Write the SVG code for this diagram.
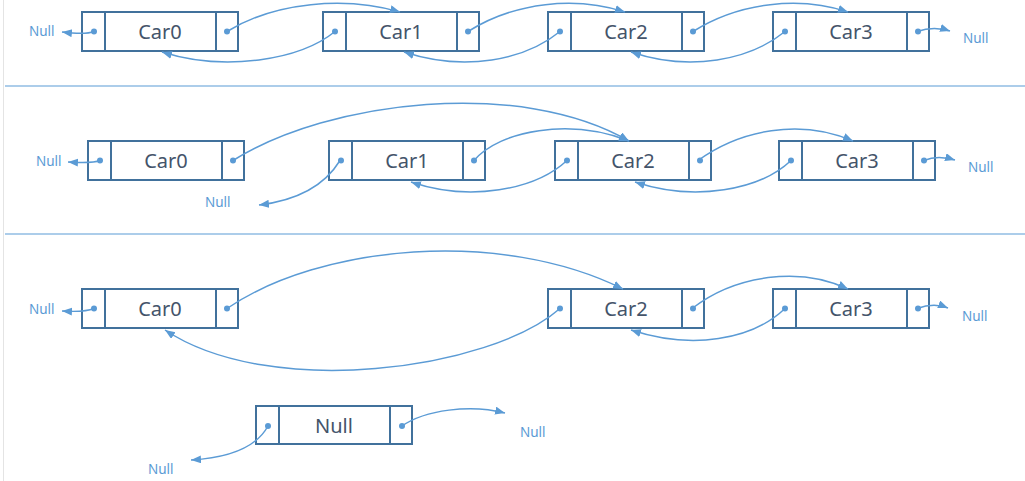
<svg xmlns="http://www.w3.org/2000/svg" width="1025" height="481" viewBox="0 0 1025 481">
<defs>
<style>
.box{fill:#fff;stroke:#41719c;stroke-width:2}
.div{stroke:#41719c;stroke-width:2}
.dot{fill:#5b9bd5}
.lbl{font-family:"Noto Sans","Liberation Sans",sans-serif;font-size:20px;fill:#44546a;text-anchor:middle}
.null{font-family:"Noto Sans","Liberation Sans",sans-serif;font-size:13.5px;fill:#5b9bd5}
.arr{fill:none;stroke:#5b9bd5;stroke-width:1.5;marker-end:url(#ah)}
.sep{stroke:#5b9bd5;stroke-width:1.2}
</style>
<marker id="ah" markerUnits="userSpaceOnUse" markerWidth="11" markerHeight="9" refX="10" refY="4" orient="auto">
<path d="M0,0 L10,4 L0,8 z" fill="#5b9bd5"/>
</marker>
</defs>
<rect width="1025" height="481" fill="#fff"/>
<line x1="3.5" y1="0" x2="3.5" y2="481" stroke="#e4e4e4" stroke-width="1"/>
<line class="sep" x1="5" y1="86" x2="1025" y2="86"/>
<line class="sep" x1="5" y1="234" x2="1025" y2="234"/>

<!-- Row 1 -->
<g id="r1-car0" transform="translate(82,12)"><rect class="box" width="156" height="39"/><line class="div" x1="23" y1="0" x2="23" y2="39"/><line class="div" x1="134" y1="0" x2="134" y2="39"/><circle class="dot" cx="12" cy="19.5" r="3"/><circle class="dot" cx="145" cy="19.5" r="3"/><text class="lbl" x="78" y="26.5">Car0</text></g>
<g id="r1-car1" transform="translate(323,12)"><rect class="box" width="156" height="39"/><line class="div" x1="23" y1="0" x2="23" y2="39"/><line class="div" x1="134" y1="0" x2="134" y2="39"/><circle class="dot" cx="12" cy="19.5" r="3"/><circle class="dot" cx="145" cy="19.5" r="3"/><text class="lbl" x="78" y="26.5">Car1</text></g>
<g id="r1-car2" transform="translate(548,12)"><rect class="box" width="156" height="39"/><line class="div" x1="23" y1="0" x2="23" y2="39"/><line class="div" x1="134" y1="0" x2="134" y2="39"/><circle class="dot" cx="12" cy="19.5" r="3"/><circle class="dot" cx="145" cy="19.5" r="3"/><text class="lbl" x="78" y="26.5">Car2</text></g>
<g id="r1-car3" transform="translate(773,12)"><rect class="box" width="156" height="39"/><line class="div" x1="23" y1="0" x2="23" y2="39"/><line class="div" x1="134" y1="0" x2="134" y2="39"/><circle class="dot" cx="12" cy="19.5" r="3"/><circle class="dot" cx="145" cy="19.5" r="3"/><text class="lbl" x="78" y="26.5">Car3</text></g>

<!-- Row 2 -->
<g id="r2-car0" transform="translate(88,141)"><rect class="box" width="156" height="39"/><line class="div" x1="23" y1="0" x2="23" y2="39"/><line class="div" x1="134" y1="0" x2="134" y2="39"/><circle class="dot" cx="12" cy="19.5" r="3"/><circle class="dot" cx="145" cy="19.5" r="3"/><text class="lbl" x="78" y="26.5">Car0</text></g>
<g id="r2-car1" transform="translate(329,141)"><rect class="box" width="156" height="39"/><line class="div" x1="23" y1="0" x2="23" y2="39"/><line class="div" x1="134" y1="0" x2="134" y2="39"/><circle class="dot" cx="12" cy="19.5" r="3"/><circle class="dot" cx="145" cy="19.5" r="3"/><text class="lbl" x="78" y="26.5">Car1</text></g>
<g id="r2-car2" transform="translate(555,141)"><rect class="box" width="156" height="39"/><line class="div" x1="23" y1="0" x2="23" y2="39"/><line class="div" x1="134" y1="0" x2="134" y2="39"/><circle class="dot" cx="12" cy="19.5" r="3"/><circle class="dot" cx="145" cy="19.5" r="3"/><text class="lbl" x="78" y="26.5">Car2</text></g>
<g id="r2-car3" transform="translate(779,141)"><rect class="box" width="156" height="39"/><line class="div" x1="23" y1="0" x2="23" y2="39"/><line class="div" x1="134" y1="0" x2="134" y2="39"/><circle class="dot" cx="12" cy="19.5" r="3"/><circle class="dot" cx="145" cy="19.5" r="3"/><text class="lbl" x="78" y="26.5">Car3</text></g>

<!-- Row 3 -->
<g id="r3-car0" transform="translate(82,289)"><rect class="box" width="156" height="39"/><line class="div" x1="23" y1="0" x2="23" y2="39"/><line class="div" x1="134" y1="0" x2="134" y2="39"/><circle class="dot" cx="12" cy="19.5" r="3"/><circle class="dot" cx="145" cy="19.5" r="3"/><text class="lbl" x="78" y="26.5">Car0</text></g>
<g id="r3-car2" transform="translate(548,289)"><rect class="box" width="156" height="39"/><line class="div" x1="23" y1="0" x2="23" y2="39"/><line class="div" x1="134" y1="0" x2="134" y2="39"/><circle class="dot" cx="12" cy="19.5" r="3"/><circle class="dot" cx="145" cy="19.5" r="3"/><text class="lbl" x="78" y="26.5">Car2</text></g>
<g id="r3-car3" transform="translate(773,289)"><rect class="box" width="156" height="39"/><line class="div" x1="23" y1="0" x2="23" y2="39"/><line class="div" x1="134" y1="0" x2="134" y2="39"/><circle class="dot" cx="12" cy="19.5" r="3"/><circle class="dot" cx="145" cy="19.5" r="3"/><text class="lbl" x="78" y="26.5">Car3</text></g>

<!-- Removed node -->
<g id="null-node" transform="translate(256,406)"><rect class="box" width="156" height="38"/><line class="div" x1="23" y1="0" x2="23" y2="38"/><line class="div" x1="134" y1="0" x2="134" y2="38"/><circle class="dot" cx="12" cy="20" r="3"/><circle class="dot" cx="146" cy="20" r="3"/><text class="lbl" x="78" y="26.5">Null</text></g>

<!-- Null labels -->
<g id="null-labels">
<text class="null" x="29" y="36">Null</text>
<text class="null" x="963" y="43">Null</text>
<text class="null" x="36" y="166">Null</text>
<text class="null" x="205" y="207">Null</text>
<text class="null" x="968" y="172">Null</text>
<text class="null" x="29" y="314">Null</text>
<text class="null" x="962" y="321">Null</text>
<text class="null" x="148" y="474">Null</text>
<text class="null" x="520" y="437">Null</text>
</g>

<g id="connectors">
<!-- Row 1 -->
<path class="arr" d="M94,31.5 C88,34 78,34 62,32"/>
<path class="arr" d="M227,31.5 C275,2 345,-4 400,12"/>
<path class="arr" d="M335,31.5 C300,60 225,72 162,52"/>
<path class="arr" d="M468,31.5 C515,2 575,-4 625,12"/>
<path class="arr" d="M560,31.5 C525,60 465,72 404,52"/>
<path class="arr" d="M693,31.5 C740,2 800,-4 848,12"/>
<path class="arr" d="M785,31.5 C750,60 690,72 631,52"/>
<path class="arr" d="M917,31.5 C927,28 938,27 950,31"/>
<!-- Row 2 -->
<path class="arr" d="M100,160.5 C94,163 84,163 68,162"/>
<path class="arr" d="M233,160.5 C330,100 520,78 629,141"/>
<path class="arr" d="M474,160.5 C500,130 570,118 629,141"/>
<path class="arr" d="M340,160.5 C325,185 300,200 259,205"/>
<path class="arr" d="M567,160.5 C535,190 470,202 411,182"/>
<path class="arr" d="M698,160.5 C740,130 800,118 853,141"/>
<path class="arr" d="M791,160.5 C760,190 695,202 635,182"/>
<path class="arr" d="M924,160.5 C932,157 942,156 955,160"/>
<!-- Row 3 -->
<path class="arr" d="M94,308.5 C88,311 78,312 62,311"/>
<path class="arr" d="M227,308.5 C320,245 500,228 623,289"/>
<path class="arr" d="M560,308.5 C490,370 270,400 165,330"/>
<path class="arr" d="M692,308.5 C735,275 800,266 848,289"/>
<path class="arr" d="M785,308.5 C752,340 692,350 631,330"/>
<path class="arr" d="M917,308.5 C927,305 938,304 948,308"/>
<!-- Null node -->
<path class="arr" d="M268,426 C255,450 225,458 191,460"/>
<path class="arr" d="M402,426 C425,410 470,404 505,413"/>
</g>
</svg>
